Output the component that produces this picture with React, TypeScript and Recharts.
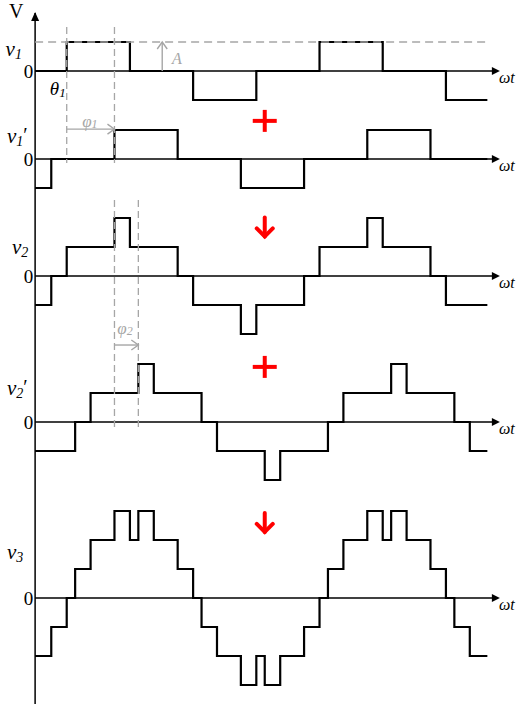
import React from 'react';
import { ComposedChart, Line, XAxis, YAxis, ReferenceLine, ReferenceDot } from 'recharts';

type Pt = { t: number; v: number };

// Step waveforms: phase angle t (degrees) where a level starts, level v (multiples of A)
const v1: Pt[] = [
  { t: 0, v: 0 }, { t: 45, v: 1 }, { t: 135, v: 0 }, { t: 225, v: -1 }, { t: 315, v: 0 },
  { t: 405, v: 1 }, { t: 495, v: 0 }, { t: 585, v: -1 }, { t: 644, v: -1 },
];
const v1Shifted: Pt[] = [
  { t: 0, v: -1 }, { t: 23, v: 0 }, { t: 113, v: 1 }, { t: 203, v: 0 }, { t: 293, v: -1 },
  { t: 383, v: 0 }, { t: 473, v: 1 }, { t: 563, v: 0 }, { t: 644, v: 0 },
];
const v2: Pt[] = [
  { t: 0, v: -1 }, { t: 23, v: 0 }, { t: 45, v: 1 }, { t: 113, v: 2 }, { t: 135, v: 1 },
  { t: 203, v: 0 }, { t: 225, v: -1 }, { t: 293, v: -2 }, { t: 315, v: -1 }, { t: 383, v: 0 },
  { t: 405, v: 1 }, { t: 473, v: 2 }, { t: 495, v: 1 }, { t: 563, v: 0 }, { t: 585, v: -1 },
  { t: 644, v: -1 },
];
const v2Shifted: Pt[] = [
  { t: 0, v: -1 }, { t: 57, v: 0 }, { t: 79, v: 1 }, { t: 147, v: 2 }, { t: 169, v: 1 },
  { t: 237, v: 0 }, { t: 259, v: -1 }, { t: 327, v: -2 }, { t: 349, v: -1 }, { t: 417, v: 0 },
  { t: 439, v: 1 }, { t: 507, v: 2 }, { t: 529, v: 1 }, { t: 597, v: 0 }, { t: 619, v: -1 },
  { t: 644, v: -1 },
];
const v3: Pt[] = [
  { t: 0, v: -2 }, { t: 23, v: -1 }, { t: 45, v: 0 }, { t: 57, v: 1 }, { t: 79, v: 2 },
  { t: 113, v: 3 }, { t: 135, v: 2 }, { t: 147, v: 3 }, { t: 169, v: 2 }, { t: 203, v: 1 },
  { t: 225, v: 0 }, { t: 237, v: -1 }, { t: 259, v: -2 }, { t: 293, v: -3 }, { t: 315, v: -2 },
  { t: 327, v: -3 }, { t: 349, v: -2 }, { t: 383, v: -1 }, { t: 405, v: 0 }, { t: 417, v: 1 },
  { t: 439, v: 2 }, { t: 473, v: 3 }, { t: 495, v: 2 }, { t: 507, v: 3 }, { t: 529, v: 2 },
  { t: 563, v: 1 }, { t: 585, v: 0 }, { t: 597, v: -1 }, { t: 619, v: -2 }, { t: 644, v: -2 },
];

// Angles of the annotated quantities (degrees)
const THETA1 = 45;
const PHI1 = 68;
const PHI2 = 34;
const T_END = 644;
const AXIS_TIP = 659;

const W = 520;
const H = 708;
const MARGIN = { top: 13, right: 20, bottom: 4, left: 0 };
const X_MIN = -50;
const X_MAX = 662;
const UNIT_PX = 29;

const SERIF = '"Liberation Serif", "Times New Roman", "DejaVu Serif", serif';
const GRAY = '#a6a6a6';
const RED = '#ff0000';

type Panel = { id: string; zero: number; data: Pt[]; sub: string; prime: boolean; labelY: number; labelX: number };

const PANELS: Panel[] = [
  { id: 'p1', zero: 71, data: v1, sub: '1', prime: false, labelY: 0.76, labelX: -42 },
  { id: 'p2', zero: 159, data: v1Shifted, sub: '1', prime: true, labelY: 0.8, labelX: -40 },
  { id: 'p3', zero: 276, data: v2, sub: '2', prime: false, labelY: 1.0, labelX: -33 },
  { id: 'p4', zero: 422, data: v2Shifted, sub: '2', prime: true, labelY: 1.17, labelX: -40 },
  { id: 'p5', zero: 598, data: v3, sub: '3', prime: false, labelY: 1.59, labelX: -40 },
];

const yDomain = (zero: number): [number, number] => [
  -(H - MARGIN.bottom - zero) / UNIT_PX,
  (zero - MARGIN.top) / UNIT_PX,
];

const txt = (content: React.ReactNode, extra: Record<string, unknown> = {}) => (p: any) => (
  <text x={p.cx} y={p.cy} fontFamily={SERIF} dominantBaseline="central" fill="#000" {...extra}>
    {content}
  </text>
);

// arrowhead of the voltage axis together with its V caption
const voltageAxisEnd = (p: any) => (
  <g>
    <polygon points={`${p.cx},${p.cy - 1} ${p.cx - 4},${p.cy + 8} ${p.cx + 4},${p.cy + 8}`} fill="#000" />
    <text x={p.cx - 19} y={p.cy - 2} fontFamily={SERIF} fontSize={20} textAnchor="middle" dominantBaseline="central" fill="#000">
      V
    </text>
  </g>
);
// arrowhead of a time axis together with its ωt caption
const timeAxisEnd = (p: any) => (
  <g>
    <polygon points={`${p.cx + 2},${p.cy} ${p.cx - 6},${p.cy - 4} ${p.cx - 6},${p.cy + 4}`} fill="#000" />
    <text x={p.cx + 1} y={p.cy + 6} fontFamily={SERIF} fontSize={16} fontStyle="italic" dominantBaseline="central" fill="#000">
      {'\u03C9t'}
    </text>
  </g>
);
const openUp = (p: any) => (
  <polyline points={`${p.cx - 5},${p.cy + 7} ${p.cx},${p.cy} ${p.cx + 5},${p.cy + 7}`} fill="none" stroke={GRAY} strokeWidth={1.4} />
);
const openRight = (p: any) => (
  <polyline points={`${p.cx - 7},${p.cy - 5} ${p.cx},${p.cy} ${p.cx - 7},${p.cy + 5}`} fill="none" stroke={GRAY} strokeWidth={1.4} />
);
const redPlus = (p: any) => (
  <g stroke={RED} strokeWidth={4}>
    <line x1={p.cx - 12} y1={p.cy} x2={p.cx + 12} y2={p.cy} />
    <line x1={p.cx} y1={p.cy - 11} x2={p.cx} y2={p.cy + 11} />
  </g>
);
const redDown = (p: any) => (
  <g stroke={RED} strokeWidth={4} fill="none" strokeLinecap="round">
    <line x1={p.cx} y1={p.cy - 10} x2={p.cx} y2={p.cy + 9} />
    <polyline points={`${p.cx - 8},${p.cy + 1} ${p.cx},${p.cy + 9} ${p.cx + 8},${p.cy + 1}`} />
  </g>
);

const waveLabel = (pn: Panel) => (
  <>
    <tspan fontStyle="italic" fontSize={21}>v</tspan>
    <tspan fontStyle="italic" fontSize={14} dy={5}>{pn.sub}</tspan>
    {pn.prime ? <tspan fontSize={20} dy={-6}>{'\u2032'}</tspan> : null}
  </>
);

export default function App() {
  return (
    <div style={{ position: 'absolute', left: 0, top: 0, width: W, height: H, background: '#fff', overflow: 'hidden' }}>
      <ComposedChart width={W} height={H} margin={MARGIN} accessibilityLayer={false}>
        <XAxis type="number" dataKey="t" domain={[X_MIN, X_MAX]} allowDataOverflow hide />
        {PANELS.map((pn) => (
          <YAxis key={pn.id} yAxisId={pn.id} type="number" domain={yDomain(pn.zero)} allowDataOverflow hide />
        ))}

        {/* vertical V axis */}
        <ReferenceLine yAxisId="p1" ifOverflow="visible" stroke="#000" strokeWidth={1.5}
          segment={[{ x: 0, y: yDomain(71)[1] }, { x: 0, y: yDomain(71)[0] }]} />
        <ReferenceDot yAxisId="p1" x={0} y={yDomain(71)[1]} r={0} ifOverflow="visible" shape={voltageAxisEnd} />

        {/* horizontal ωt axes with zero labels */}
        {PANELS.map((pn) => (
          <ReferenceLine key={`ax-${pn.id}`} yAxisId={pn.id} ifOverflow="visible" stroke="#000" strokeWidth={1.3}
            segment={[{ x: 0, y: 0 }, { x: AXIS_TIP, y: 0 }]} />
        ))}
        {PANELS.map((pn) => (
          <ReferenceDot key={`tip-${pn.id}`} yAxisId={pn.id} x={AXIS_TIP} y={0} r={0} ifOverflow="visible" shape={timeAxisEnd} />
        ))}
        {PANELS.map((pn) => (
          <ReferenceDot key={`z-${pn.id}`} yAxisId={pn.id} x={-2.5} y={0} r={0} ifOverflow="visible"
            shape={txt('0', { fontSize: 19, textAnchor: 'end' })} />
        ))}
        {PANELS.map((pn) => (
          <ReferenceDot key={`lbl-${pn.id}`} yAxisId={pn.id} x={pn.labelX} y={pn.labelY} r={0} ifOverflow="visible"
            shape={txt(waveLabel(pn))} />
        ))}

        {/* waveforms */}
        {PANELS.map((pn) => (
          <Line key={`w-${pn.id}`} yAxisId={pn.id} data={pn.data} dataKey="v" type="stepAfter"
            stroke="#000" strokeWidth={2.2} dot={false} activeDot={false} isAnimationActive={false} />
        ))}

        {/* amplitude reference and phase guides */}
        <ReferenceLine yAxisId="p1" ifOverflow="visible" stroke={GRAY} strokeWidth={1.5} strokeDasharray="8 5"
          segment={[{ x: 0, y: 1 }, { x: T_END, y: 1 }]} />
        <ReferenceLine yAxisId="p1" ifOverflow="visible" stroke={GRAY} strokeWidth={1.3} strokeDasharray="7 4"
          segment={[{ x: THETA1, y: 1.52 }, { x: THETA1, y: -3.17 }]} />
        <ReferenceLine yAxisId="p1" ifOverflow="visible" stroke={GRAY} strokeWidth={1.3} strokeDasharray="7 4"
          segment={[{ x: THETA1 + PHI1, y: 1.52 }, { x: THETA1 + PHI1, y: -3.17 }]} />
        <ReferenceLine yAxisId="p3" ifOverflow="visible" stroke={GRAY} strokeWidth={1.3} strokeDasharray="7 4"
          segment={[{ x: THETA1 + PHI1, y: 2.62 }, { x: THETA1 + PHI1, y: -5.21 }]} />
        <ReferenceLine yAxisId="p3" ifOverflow="visible" stroke={GRAY} strokeWidth={1.3} strokeDasharray="7 4"
          segment={[{ x: THETA1 + PHI1 + PHI2, y: 2.62 }, { x: THETA1 + PHI1 + PHI2, y: -5.21 }]} />

        {/* A arrow */}
        <ReferenceLine yAxisId="p1" ifOverflow="visible" stroke={GRAY} strokeWidth={1.4}
          segment={[{ x: 181, y: 0 }, { x: 181, y: 1 }]} />
        <ReferenceDot yAxisId="p1" x={181} y={1} r={0} ifOverflow="visible" shape={openUp} />
        <ReferenceDot yAxisId="p1" x={195} y={0.45} r={0} ifOverflow="visible"
          shape={txt(<tspan fontStyle="italic">A</tspan>, { fontSize: 16, fill: GRAY })} />

        {/* θ1 */}
        <ReferenceDot yAxisId="p1" x={21} y={-0.6} r={0} ifOverflow="visible"
          shape={txt(
            <>
              <tspan fontStyle="italic" fontSize={19}>{'\u03B8'}</tspan>
              <tspan fontStyle="italic" fontSize={13} dy={4}>1</tspan>
            </>,
          )} />

        {/* φ1 arrow */}
        <ReferenceLine yAxisId="p2" ifOverflow="visible" stroke={GRAY} strokeWidth={1.4}
          segment={[{ x: THETA1, y: 1.03 }, { x: THETA1 + PHI1, y: 1.03 }]} />
        <ReferenceDot yAxisId="p2" x={THETA1 + PHI1} y={1.03} r={0} ifOverflow="visible" shape={openRight} />
        <ReferenceDot yAxisId="p2" x={67} y={1.3} r={0} ifOverflow="visible"
          shape={txt(
            <>
              <tspan fontStyle="italic" fontSize={17}>{'\u03C6'}</tspan>
              <tspan fontStyle="italic" fontSize={12} dy={3}>1</tspan>
            </>,
            { fill: GRAY },
          )} />

        {/* φ2 arrow */}
        <ReferenceLine yAxisId="p3" ifOverflow="visible" stroke={GRAY} strokeWidth={1.4}
          segment={[{ x: THETA1 + PHI1, y: -2.38 }, { x: THETA1 + PHI1 + PHI2, y: -2.38 }]} />
        <ReferenceDot yAxisId="p3" x={THETA1 + PHI1 + PHI2} y={-2.38} r={0} ifOverflow="visible" shape={openRight} />
        <ReferenceDot yAxisId="p3" x={117} y={-1.8} r={0} ifOverflow="visible"
          shape={txt(
            <>
              <tspan fontStyle="italic" fontSize={17}>{'\u03C6'}</tspan>
              <tspan fontStyle="italic" fontSize={12} dy={3}>2</tspan>
            </>,
            { fill: GRAY },
          )} />

        {/* red operation symbols between panels */}
        <ReferenceDot yAxisId="p1" x={327} y={-1.72} r={0} ifOverflow="visible" shape={redPlus} />
        <ReferenceDot yAxisId="p2" x={327} y={-2.36} r={0} ifOverflow="visible" shape={redDown} />
        <ReferenceDot yAxisId="p4" x={327} y={1.9} r={0} ifOverflow="visible" shape={redPlus} />
        <ReferenceDot yAxisId="p5" x={327} y={2.59} r={0} ifOverflow="visible" shape={redDown} />
      </ComposedChart>
    </div>
  );
}
